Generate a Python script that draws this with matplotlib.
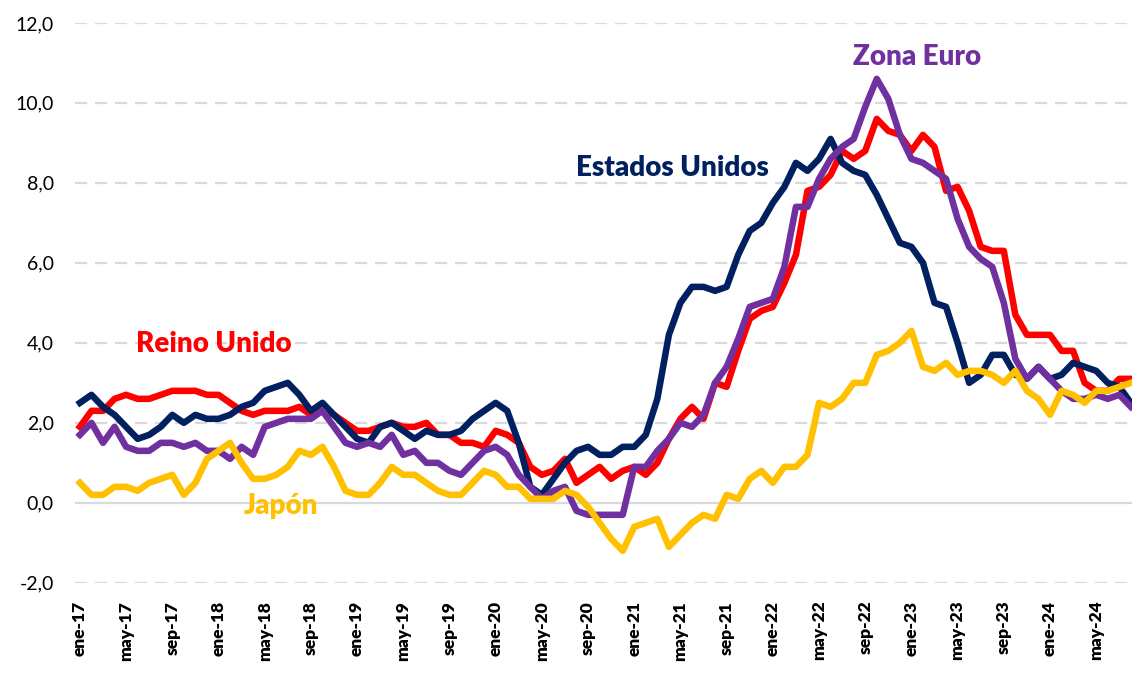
import matplotlib
matplotlib.use("Agg")
import matplotlib.pyplot as plt
import numpy as np

plt.rcParams['font.family'] = ['Lato', 'DejaVu Sans']

# Inflación interanual (%), mensual ene-17 .. ago-24
estados_unidos = [2.5, 2.7, 2.4, 2.2, 1.9, 1.6, 1.7, 1.9, 2.2, 2.0, 2.2, 2.1,
                  2.1, 2.2, 2.4, 2.5, 2.8, 2.9, 3.0, 2.7, 2.3, 2.5, 2.2, 1.9,
                  1.6, 1.5, 1.9, 2.0, 1.8, 1.6, 1.8, 1.7, 1.7, 1.8, 2.1, 2.3,
                  2.5, 2.3, 1.5, 0.4, 0.2, 0.6, 1.0, 1.3, 1.4, 1.2, 1.2, 1.4,
                  1.4, 1.7, 2.6, 4.2, 5.0, 5.4, 5.4, 5.3, 5.4, 6.2, 6.8, 7.0,
                  7.5, 7.9, 8.5, 8.3, 8.6, 9.1, 8.5, 8.3, 8.2, 7.7, 7.1, 6.5,
                  6.4, 6.0, 5.0, 4.9, 4.0, 3.0, 3.2, 3.7, 3.7, 3.2, 3.1, 3.4,
                  3.1, 3.2, 3.5, 3.4, 3.3, 3.0, 2.9, 2.5]

reino_unido = [1.9, 2.3, 2.3, 2.6, 2.7, 2.6, 2.6, 2.7, 2.8, 2.8, 2.8, 2.7,
               2.7, 2.5, 2.3, 2.2, 2.3, 2.3, 2.3, 2.4, 2.2, 2.3, 2.2, 2.0,
               1.8, 1.8, 1.9, 2.0, 1.9, 1.9, 2.0, 1.7, 1.7, 1.5, 1.5, 1.4,
               1.8, 1.7, 1.5, 0.9, 0.7, 0.8, 1.1, 0.5, 0.7, 0.9, 0.6, 0.8,
               0.9, 0.7, 1.0, 1.6, 2.1, 2.4, 2.1, 3.0, 2.9, 3.8, 4.6, 4.8,
               4.9, 5.5, 6.2, 7.8, 7.9, 8.2, 8.8, 8.6, 8.8, 9.6, 9.3, 9.2,
               8.8, 9.2, 8.9, 7.8, 7.9, 7.3, 6.4, 6.3, 6.3, 4.7, 4.2, 4.2,
               4.2, 3.8, 3.8, 3.0, 2.8, 2.8, 3.1, 3.1]

zona_euro = [1.7, 2.0, 1.5, 1.9, 1.4, 1.3, 1.3, 1.5, 1.5, 1.4, 1.5, 1.3,
             1.3, 1.1, 1.4, 1.2, 1.9, 2.0, 2.1, 2.1, 2.1, 2.3, 1.9, 1.5,
             1.4, 1.5, 1.4, 1.7, 1.2, 1.3, 1.0, 1.0, 0.8, 0.7, 1.0, 1.3,
             1.4, 1.2, 0.7, 0.4, 0.1, 0.3, 0.4, -0.2, -0.3, -0.3, -0.3, -0.3,
             0.9, 0.9, 1.3, 1.6, 2.0, 1.9, 2.2, 3.0, 3.4, 4.1, 4.9, 5.0,
             5.1, 5.9, 7.4, 7.4, 8.1, 8.6, 8.9, 9.1, 9.9, 10.6, 10.1, 9.2,
             8.6, 8.5, 8.3, 8.1, 7.1, 6.4, 6.1, 5.9, 5.0, 3.6, 3.1, 3.4,
             3.1, 2.8, 2.6, 2.6, 2.7, 2.6, 2.7, 2.4]

japon = [0.5, 0.2, 0.2, 0.4, 0.4, 0.3, 0.5, 0.6, 0.7, 0.2, 0.5, 1.1,
         1.3, 1.5, 1.0, 0.6, 0.6, 0.7, 0.9, 1.3, 1.2, 1.4, 0.9, 0.3,
         0.2, 0.2, 0.5, 0.9, 0.7, 0.7, 0.5, 0.3, 0.2, 0.2, 0.5, 0.8,
         0.7, 0.4, 0.4, 0.1, 0.1, 0.1, 0.3, 0.2, -0.1, -0.5, -0.9, -1.2,
         -0.6, -0.5, -0.4, -1.1, -0.8, -0.5, -0.3, -0.4, 0.2, 0.1, 0.6, 0.8,
         0.5, 0.9, 0.9, 1.2, 2.5, 2.4, 2.6, 3.0, 3.0, 3.7, 3.8, 4.0,
         4.3, 3.4, 3.3, 3.5, 3.2, 3.3, 3.3, 3.2, 3.0, 3.3, 2.8, 2.6,
         2.2, 2.8, 2.7, 2.5, 2.8, 2.8, 2.9, 3.0]

meses = ['ene', 'feb', 'mar', 'abr', 'may', 'jun',
         'jul', 'ago', 'sep', 'oct', 'nov', 'dic']
anio_inicio = 17

n = len(estados_unidos)
x = np.arange(n)
etiquetas = [f"{meses[i % 12]}-{anio_inicio + i // 12}" for i in range(n)]

fig = plt.figure(figsize=(11.32, 6.73), dpi=100)
ax = fig.add_axes([0.066, 0.134, 0.934, 0.832])

# rejilla: discontinua gris, linea del cero continua
for v in np.arange(-2, 12.1, 2):
    if v == 0:
        ax.axhline(v, color='#d9d9d9', lw=1.6, zorder=0)
    else:
        ax.axhline(v, color='#d9d9d9', lw=1.6, ls=(0, (5.5, 3.5)), zorder=0)

lw = 4.7
ax.plot(x, reino_unido, color='#ff0000', lw=lw, solid_joinstyle='round', zorder=2)
ax.plot(x, estados_unidos, color='#002060', lw=lw, solid_joinstyle='round', zorder=3)
ax.plot(x, zona_euro, color='#7030a0', lw=lw, solid_joinstyle='round', zorder=4)
ax.plot(x, japon, color='#ffc000', lw=lw, solid_joinstyle='round', zorder=5)

# etiquetas de las series
fs = 20
ax.text(72.5, 11.15, 'Zona Euro', color='#7030a0', fontsize=fs,
        fontweight='heavy', ha='center', va='center')
ax.text(51.3, 8.38, 'Estados Unidos', color='#002060', fontsize=fs,
        fontweight='heavy', ha='center', va='center')
ax.text(11.6, 3.98, 'Reino Unido', color='#ff0000', fontsize=fs,
        fontweight='heavy', ha='center', va='center')
ax.text(17.4, -0.08, 'Japón', color='#ffc000', fontsize=fs,
        fontweight='heavy', ha='center', va='center')

ax.set_xlim(-0.45, 91.1)
ax.set_ylim(-2, 12)

ax.set_yticks(np.arange(-2, 12.1, 2))
ax.set_yticklabels([f"{v:.1f}".replace('.', ',') for v in np.arange(-2, 12.1, 2)],
                   fontsize=14)
ticks = list(range(0, n, 4))
ax.set_xticks(ticks)
ax.set_xticklabels([etiquetas[i] for i in ticks], rotation=90,
                   fontsize=12.5, fontweight='heavy')
ax.tick_params(axis='both', length=0, colors='#000000')
ax.tick_params(axis='y', pad=15)
ax.tick_params(axis='x', pad=13)

for s in ax.spines.values():
    s.set_visible(False)

fig.savefig('out.png', dpi=100)
